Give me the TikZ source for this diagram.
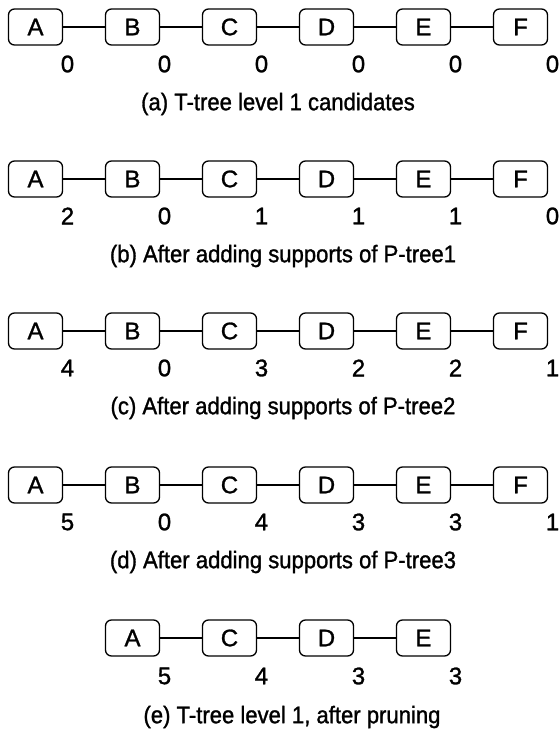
\documentclass[tikz,border=0pt]{standalone}
\usepackage{fontspec}
\setmainfont[FakeBold=1.2]{Liberation Sans}
\newfontfamily\capfont[FakeBold=1.2,FakeStretch=0.92]{Liberation Sans}
\begin{document}
\begin{tikzpicture}[x=1pt,y=-1pt,
  item/.style={draw, line width=1.3pt, rounded corners=6pt, minimum width=54pt,
    minimum height=36pt, inner sep=0pt, font=\fontsize{24}{24}\selectfont},
  count/.style={inner sep=0pt, font=\fontsize{24}{24}\selectfont},
  caption/.style={inner sep=0pt, font=\capfont\fontsize{24}{24}\selectfont},
  link/.style={line width=1.2pt}]
\useasboundingbox (0,0) rectangle (558,736);

% (a) level 1 candidates
\foreach \lab/\n [count=\i from 0] in {A/0,B/0,C/0,D/0,E/0,F/0} {
  \node[item] (a\lab) at (35.5+97*\i, 27) {\lab};
  \node[count] (a\lab n) at (35.5+97*\i+32, 64) {\n};
}
\foreach \p/\q in {A/B,B/C,C/D,D/E,E/F} \draw[link] (a\p) -- (a\q);
\node[caption] (capa) at (278, 104) {(a) T-tree level 1 candidates};

% (b) after P-tree1
\foreach \lab/\n [count=\i from 0] in {A/2,B/0,C/1,D/1,E/1,F/0} {
  \node[item] (b\lab) at (35.5+97*\i, 179) {\lab};
  \node[count] (b\lab n) at (35.5+97*\i+32, 216) {\n};
}
\foreach \p/\q in {A/B,B/C,C/D,D/E,E/F} \draw[link] (b\p) -- (b\q);
\node[caption] (capb) at (283, 256) {(b) After adding supports of P-tree1};

% (c) after P-tree2
\foreach \lab/\n [count=\i from 0] in {A/4,B/0,C/3,D/2,E/2,F/1} {
  \node[item] (c\lab) at (35.5+97*\i, 331) {\lab};
  \node[count] (c\lab n) at (35.5+97*\i+32, 368) {\n};
}
\foreach \p/\q in {A/B,B/C,C/D,D/E,E/F} \draw[link] (c\p) -- (c\q);
\node[caption] (capc) at (283, 408) {(c) After adding supports of P-tree2};

% (d) after P-tree3
\foreach \lab/\n [count=\i from 0] in {A/5,B/0,C/4,D/3,E/3,F/1} {
  \node[item] (d\lab) at (35.5+97*\i, 485) {\lab};
  \node[count] (d\lab n) at (35.5+97*\i+32, 522) {\n};
}
\foreach \p/\q in {A/B,B/C,C/D,D/E,E/F} \draw[link] (d\p) -- (d\q);
\node[caption] (capd) at (283, 562) {(d) After adding supports of P-tree3};

% (e) pruned level 1
\foreach \lab/\n [count=\i from 1] in {A/5,C/4,D/3,E/3} {
  \node[item] (e\lab) at (35.5+97*\i, 638) {\lab};
  \node[count] (e\lab n) at (35.5+97*\i+32, 676) {\n};
}
\foreach \p/\q in {A/C,C/D,D/E} \draw[link] (e\p) -- (e\q);
\node[caption] (cape) at (292, 717) {(e) T-tree level 1, after pruning};
\end{tikzpicture}
\end{document}
